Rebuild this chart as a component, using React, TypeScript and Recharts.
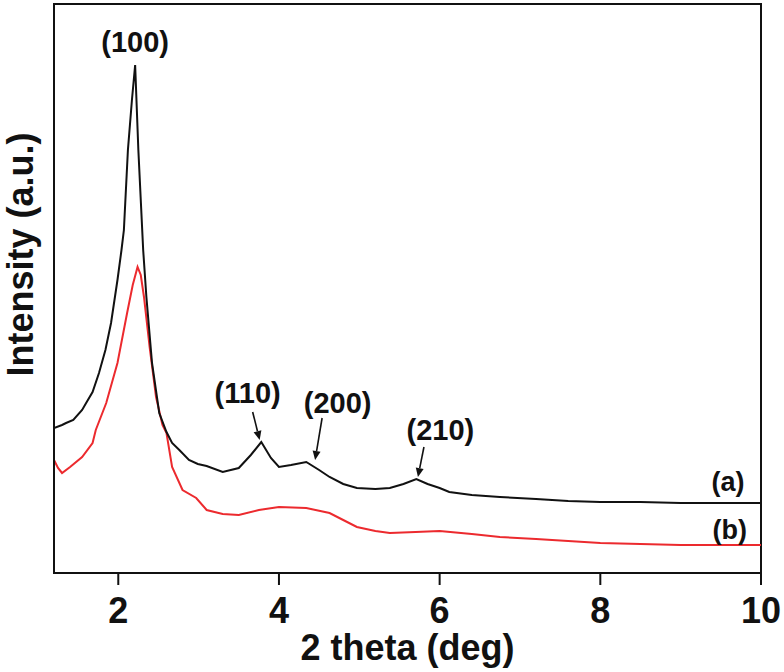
//XRD patterns (a) and (b)
import {
  LineChart,
  Line,
  XAxis,
  YAxis,
  ReferenceDot,
  ReferenceArea,
} from "recharts";

// curve (a), black
const thetaA = [
  1.2, 1.3, 1.35, 1.44, 1.55, 1.6, 1.68, 1.76, 1.84, 1.91, 1.99, 2.04, 2.07,
  2.12, 2.17, 2.21, 2.25, 2.28, 2.31, 2.35, 2.42, 2.51, 2.6, 2.67, 2.76, 2.88,
  2.99, 3.1, 3.3, 3.5, 3.65, 3.78, 3.9, 4.0, 4.15, 4.34, 4.5, 4.63, 4.8, 4.97,
  5.2, 5.38, 5.55, 5.71, 5.85, 6.0, 6.12, 6.4, 6.75, 7.2, 7.6, 8.0, 8.5, 9.0,
  9.5, 10.0,
];
const intensityA = [
  145, 148, 150, 153, 163, 170, 181, 200, 223, 250, 293, 323, 343, 423, 473,
  508, 423, 373, 323, 276, 210, 160, 141, 130, 123, 113, 109, 107, 101, 105,
  118, 131, 115, 106, 108, 111, 103, 96, 89, 85, 84, 85, 89, 94, 89, 85, 81,
  78, 76, 74, 72, 71, 71, 70, 70, 70,
];

// curve (b), red
const thetaB = [
  1.2, 1.25, 1.3, 1.4, 1.55, 1.68, 1.72, 1.85, 1.99, 2.11, 2.18, 2.24, 2.28,
  2.32, 2.39, 2.47, 2.55, 2.6, 2.67, 2.8, 2.97, 3.1, 3.3, 3.5, 3.75, 4.0, 4.34,
  4.63, 4.8, 4.97, 5.2, 5.38, 5.7, 6.0, 6.4, 6.75, 7.2, 8.0, 8.5, 9.0, 10.0,
];
const intensityB = [
  113, 105, 100, 106, 116, 130, 143, 170, 210, 260, 288, 306, 298, 276, 226,
  176, 148, 140, 106, 83, 75, 63, 59, 58, 63, 66, 65, 60, 53, 46, 42, 40, 41,
  42, 39, 36, 34, 30, 29, 28, 28,
];

const xTicks = [2, 4, 6, 8, 10];

// peak labels: [text, theta, intensity, font size]
const peakLabels: [string, number, number, number][] = [
  ["(100)", 2.21, 531, 29],
  ["(110)", 3.61, 180, 29],
  ["(200)", 4.73, 170, 29],
  ["(210)", 6.01, 143, 29],
  ["(a)", 9.59, 91, 27],
  ["(b)", 9.61, 43, 27],
];

// arrows: [tip theta, tip intensity, tail dx, tail dy]
const arrows: [number, number, number, number][] = [
  [3.76, 133, -7, -28],
  [4.45, 113, 7, -42],
  [5.73, 96, 6, -30],
];

const dataA = thetaA.map((t, i) => ({ theta: t, a: intensityA[i] }));
const dataB = thetaB.map((t, i) => ({ theta: t, b: intensityB[i] }));

const font = "'Liberation Sans', Arial, sans-serif";

function Arrow(props: any) {
  const { cx, cy, dx, dy } = props;
  const x0 = cx + dx;
  const y0 = cy + dy;
  const len = Math.sqrt(dx * dx + dy * dy);
  const ux = -dx / len;
  const uy = -dy / len;
  const h = 9;
  const w = 4;
  const bx = cx - ux * h;
  const by = cy - uy * h;
  return (
    <g>
      <line x1={x0} y1={y0} x2={bx} y2={by} stroke="#111" strokeWidth={1.6} />
      <polygon
        points={`${cx},${cy} ${bx - uy * w},${by + ux * w} ${bx + uy * w},${by - ux * w}`}
        fill="#111"
      />
    </g>
  );
}

function PeakText(props: any) {
  const { cx, cy, text, size } = props;
  return (
    <text
      x={cx}
      y={cy}
      textAnchor="middle"
      dominantBaseline="central"
      fontFamily={font}
      fontWeight="bold"
      fontSize={size}
      fill="#111"
    >
      {text}
    </text>
  );
}

export default function App() {
  return (
    <div style={{ position: "absolute", left: 0, top: 0, background: "#fff" }}>
      <LineChart
        width={784}
        height={672}
        margin={{ top: 4, right: 23, bottom: 0, left: 0 }}
      >
        <XAxis
          xAxisId="bottom"
          dataKey="theta"
          type="number"
          domain={[1.2, 10]}
          ticks={xTicks}
          allowDataOverflow
          height={99}
          axisLine={{ stroke: "#111", strokeWidth: 2 }}
          tickLine={{ stroke: "#111", strokeWidth: 2 }}
          tickSize={12}
          tickMargin={12}
          tick={{ fill: "#111", fontSize: 36, fontWeight: "bold", fontFamily: font }}
          label={{
            value: "2 theta (deg)",
            position: "insideBottom",
            offset: 12,
            fill: "#111",
            fontSize: 36,
            fontWeight: "bold",
            fontFamily: font,
          }}
        />
        <YAxis
          yAxisId="left"
          type="number"
          domain={[0, 569]}
          allowDataOverflow
          width={54}
          tick={false}
          tickLine={false}
          axisLine={{ stroke: "#111", strokeWidth: 2 }}
          label={{
            value: "Intensity (a.u.)",
            angle: -90,
            position: "insideLeft",
            dx: 15,
            dy: -34,
            fill: "#111",
            fontSize: 36,
            fontWeight: "bold",
            fontFamily: font,
            style: { textAnchor: "middle" },
          }}
        />
        <ReferenceArea
          xAxisId="bottom"
          yAxisId="left"
          x1={1.2}
          x2={10}
          y1={0}
          y2={569}
          fill="none"
          stroke="#111"
          strokeWidth={2}
          ifOverflow="visible"
        />
        <Line
          xAxisId="bottom"
          yAxisId="left"
          data={dataB}
          dataKey="b"
          type="linear"
          stroke="#ec2a2e"
          strokeWidth={2}
          dot={false}
          isAnimationActive={false}
        />
        <Line
          xAxisId="bottom"
          yAxisId="left"
          data={dataA}
          dataKey="a"
          type="linear"
          stroke="#111"
          strokeWidth={2}
          dot={false}
          isAnimationActive={false}
        />
        {peakLabels.map(([text, t, v, size]) => (
          <ReferenceDot
            key={text}
            xAxisId="bottom"
            yAxisId="left"
            x={t}
            y={v}
            shape={(p: any) => <PeakText {...p} text={text} size={size} />}
          />
        ))}
        {arrows.map(([t, v, dx, dy]) => (
          <ReferenceDot
            key={t}
            xAxisId="bottom"
            yAxisId="left"
            x={t}
            y={v}
            shape={(p: any) => <Arrow {...p} dx={dx} dy={dy} />}
          />
        ))}
      </LineChart>
    </div>
  );
}
